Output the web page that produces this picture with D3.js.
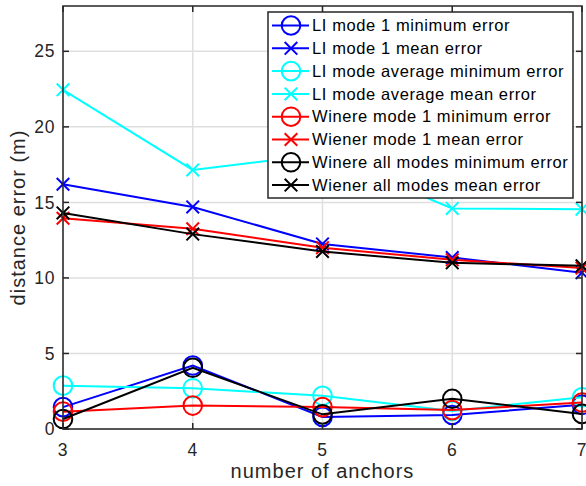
<!DOCTYPE html>
<html>
<head>
<meta charset="utf-8">
<script src="https://cdn.jsdelivr.net/npm/d3@7"></script>
<style>
  body { margin: 0; background: #fff; }
  svg { font-family: "Liberation Sans", Arial, sans-serif; }
</style>
</head>
<body>
<div id="chart"></div>
<script>
const anchors = [3, 4, 5, 6, 7];
const xTicks = [3, 4, 5, 6, 7];
const yTicks = [0, 5, 10, 15, 20, 25];

const liMode1Min = [1.45, 4.2, 0.8, 0.93, 1.6];
const liMode1Mean = [16.2, 14.7, 12.25, 11.35, 10.35];
const liAvgMin = [2.87, 2.7, 2.2, 1.2, 2.1];
const liAvgMean = [22.45, 17.15, 18.2, 14.6, 14.55];
const wienerMode1Min = [1.15, 1.55, 1.45, 1.25, 1.75];
const wienerMode1Mean = [13.95, 13.25, 12.0, 11.2, 10.65];
const wienerAllMin = [0.66, 4.05, 0.97, 2.0, 1.0];
const wienerAllMean = [14.3, 12.9, 11.75, 11.0, 10.8];

const series = [
  { name: "LI mode 1 minimum error", values: liMode1Min, color: "#0000ff", marker: "o" },
  { name: "LI mode 1 mean error", values: liMode1Mean, color: "#0000ff", marker: "x" },
  { name: "LI mode average minimum error", values: liAvgMin, color: "#00ffff", marker: "o" },
  { name: "LI mode average mean error", values: liAvgMean, color: "#00ffff", marker: "x" },
  { name: "Winere mode 1 minimum error", values: wienerMode1Min, color: "#ff0000", marker: "o" },
  { name: "Wiener mode 1 mean error", values: wienerMode1Mean, color: "#ff0000", marker: "x" },
  { name: "Winere all modes minimum error", values: wienerAllMin, color: "#000000", marker: "o" },
  { name: "Wiener all modes mean error", values: wienerAllMean, color: "#000000", marker: "x" }
];

const W = 586, H = 486;
const margin = { top: 6, right: 4, bottom: 57, left: 63 };
const width = W - margin.left - margin.right;
const height = H - margin.top - margin.bottom;

const svg = d3.select("#chart").append("svg")
  .attr("width", W)
  .attr("height", H);

const g = svg.append("g")
  .attr("transform", `translate(${margin.left},${margin.top})`);

const x = d3.scaleLinear().domain([3, 7]).range([0, width]);
const y = d3.scaleLinear().domain([0, 28]).range([height, 0]);

const axisColor = "#262626";

// grid
g.append("g").selectAll("line")
  .data(xTicks)
  .enter().append("line")
  .attr("x1", d => x(d)).attr("x2", d => x(d))
  .attr("y1", 0).attr("y2", height)
  .attr("stroke", "#dfdfdf").attr("stroke-width", 1.5);
g.append("g").selectAll("line")
  .data(yTicks)
  .enter().append("line")
  .attr("x1", 0).attr("x2", width)
  .attr("y1", d => y(d)).attr("y2", d => y(d))
  .attr("stroke", "#dfdfdf").attr("stroke-width", 1.5);

// lines and markers
const line = d3.line()
  .x((d, i) => x(anchors[i]))
  .y(d => y(d));

const drawMarker = (sel, type, color) => {
  if (type === "o") {
    sel.append("circle")
      .attr("r", 9.3)
      .attr("fill", "none")
      .attr("stroke", color)
      .attr("stroke-width", 2);
  } else {
    const s = 6.3;
    sel.append("path")
      .attr("d", `M${-s},${-s}L${s},${s}M${-s},${s}L${s},${-s}`)
      .attr("fill", "none")
      .attr("stroke", color)
      .attr("stroke-width", 2);
  }
};

const plot = g.append("g");
series.forEach(s => {
  plot.append("path")
    .datum(s.values)
    .attr("d", line)
    .attr("fill", "none")
    .attr("stroke", s.color)
    .attr("stroke-width", 2);
  s.values.forEach((v, i) => {
    const m = plot.append("g").attr("transform", `translate(${x(anchors[i])},${y(v)})`);
    drawMarker(m, s.marker, s.color);
  });
});

// axes box
g.append("rect")
  .attr("width", width).attr("height", height)
  .attr("fill", "none").attr("stroke", axisColor).attr("stroke-width", 1.5);

const tickLen = 6;
const ticks = g.append("g").attr("stroke", axisColor).attr("stroke-width", 1.5);
xTicks.forEach(t => {
  ticks.append("line").attr("x1", x(t)).attr("x2", x(t)).attr("y1", height).attr("y2", height - tickLen);
  ticks.append("line").attr("x1", x(t)).attr("x2", x(t)).attr("y1", 0).attr("y2", tickLen);
});
yTicks.forEach(t => {
  ticks.append("line").attr("x1", 0).attr("x2", tickLen).attr("y1", y(t)).attr("y2", y(t));
  ticks.append("line").attr("x1", width).attr("x2", width - tickLen).attr("y1", y(t)).attr("y2", y(t));
});

// tick labels
g.append("g").selectAll("text")
  .data(xTicks)
  .enter().append("text")
  .attr("x", d => x(d))
  .attr("y", height + 27)
  .attr("text-anchor", "middle")
  .attr("font-size", 17.5)
  .attr("letter-spacing", 0.6)
  .attr("fill", axisColor)
  .text(d => d);

g.append("g").selectAll("text")
  .data(yTicks)
  .enter().append("text")
  .attr("x", -8)
  .attr("y", d => y(d))
  .attr("dy", "0.35em")
  .attr("text-anchor", "end")
  .attr("font-size", 17.5)
  .attr("letter-spacing", 0.6)
  .attr("fill", axisColor)
  .text(d => d);

// axis labels
svg.append("text")
  .attr("x", margin.left + width / 2)
  .attr("y", 478)
  .attr("text-anchor", "middle")
  .attr("font-size", 20)
  .attr("letter-spacing", 1)
  .attr("fill", axisColor)
  .text("number of anchors");

svg.append("text")
  .attr("transform", `translate(25,${margin.top + height / 2}) rotate(-90)`)
  .attr("text-anchor", "middle")
  .attr("font-size", 20)
  .attr("letter-spacing", 1)
  .attr("fill", axisColor)
  .text("distance error (m)");

// legend
const legend = svg.append("g").attr("transform", "translate(268,12)");
legend.append("rect")
  .attr("width", 305).attr("height", 186)
  .attr("fill", "#fff").attr("stroke", axisColor).attr("stroke-width", 1.5);

const rowH = 22.8;
series.forEach((s, i) => {
  const row = legend.append("g").attr("transform", `translate(0,${13.5 + i * rowH})`);
  row.append("line")
    .attr("x1", 4).attr("x2", 41)
    .attr("stroke", s.color).attr("stroke-width", 2);
  const m = row.append("g").attr("transform", "translate(23,0)");
  drawMarker(m, s.marker, s.color);
  row.append("text")
    .attr("x", 44)
    .attr("dy", "0.35em")
    .attr("font-size", 16.5)
    .attr("letter-spacing", 0.6)
    .attr("fill", "#000")
    .text(s.name);
});
</script>
</body>
</html>
